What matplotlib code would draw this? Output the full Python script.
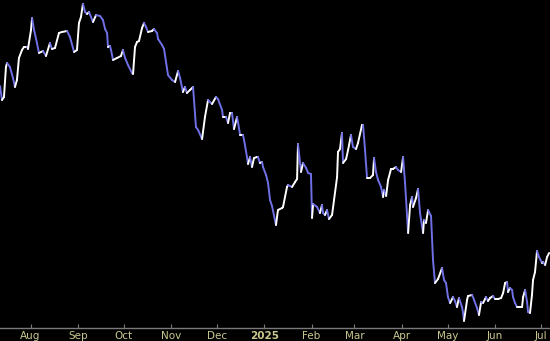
import matplotlib
matplotlib.use('Agg')
import numpy as np
import pandas as pd
import matplotlib.pyplot as plt
from matplotlib.collections import LineCollection

# days since the first point and the close level
day = [0.0, 1.3, 2.6, 3.9, 4.6, 6.5, 8.5, 9.8, 11.1, 12.4, 14.4, 15.7, 17.7, 18.3, 20.3, 21.0,
       22.3, 24.2, 25.5, 28.2, 30.1, 32.7, 34.0, 36.0, 38.6, 40.6, 43.9, 45.8, 48.5, 50.4, 51.7,
       53.0, 54.3, 55.7, 57.0, 58.3, 60.9, 62.9, 65.5, 67.4, 68.8, 70.1, 70.7, 72.0, 72.7, 74.0,
       76.6, 79.2, 80.5, 81.9, 83.8, 86.4, 87.1, 88.4, 89.7, 91.0, 93.0, 94.3, 95.6, 96.9, 99.5,
       100.8, 102.8, 103.5, 106.1, 107.4, 108.7, 110.0, 112.6, 114.6, 116.6, 117.9, 119.8, 121.1,
       122.4, 124.4, 126.4, 128.3, 129.7, 132.3, 134.2, 136.2, 138.8, 141.4, 142.7, 145.4, 146.0,
       148.0, 149.3, 150.6, 151.9, 153.2, 155.2, 155.8, 157.2, 159.1, 159.8, 161.7, 162.4, 163.7,
       165.0, 166.3, 168.3, 168.9, 170.2, 171.6, 172.2, 174.2, 175.5, 176.8, 178.1, 180.7, 182.0,
       184.7, 185.3, 187.9, 188.6, 191.2, 193.2, 194.5, 195.1, 197.1, 198.4, 200.4, 201.7, 203.6,
       204.3, 205.0, 207.6, 209.5, 210.8, 211.5, 212.8, 214.1, 215.4, 217.4, 218.7, 220.7, 221.3,
       222.6, 223.9, 224.6, 226.6, 227.9, 229.8, 231.1, 233.1, 234.4, 237.0, 237.7, 239.0, 240.3,
       242.3, 244.2, 244.9, 246.2, 247.5, 249.5, 250.8, 251.4, 252.8, 254.1, 256.0, 257.3, 259.3,
       260.6, 262.6, 263.9, 265.2, 267.2, 268.5, 269.8, 270.4, 272.4, 273.7, 275.0, 277.0, 277.6,
       278.9, 280.3, 282.2, 283.5, 284.8, 286.8, 289.4, 290.7, 292.0, 293.3, 294.7, 296.6, 297.9,
       299.2, 300.5, 302.5, 303.2, 303.8, 305.8, 306.4, 309.1, 310.4, 312.3, 313.6, 315.0, 316.3,
       318.2, 319.5, 320.9, 322.8, 324.1, 326.1, 328.1, 329.4, 330.7, 332.0, 332.6, 333.9, 335.3,
       335.9, 337.2, 338.5, 340.5, 341.8, 342.5, 343.8, 345.1, 345.7, 347.0, 348.3, 349.0, 350.3,
       351.6, 352.9, 354.9, 355.6, 356.9, 358.2, 359.5]
close = [242, 228, 231, 261, 265, 261, 250, 241, 248, 270, 278, 281, 281, 279, 298, 310,
         298, 285, 275, 277, 272, 285, 279, 280, 295, 296, 297, 291, 276, 278, 305,
         311, 324, 316, 314, 316, 306, 313, 312, 308, 299, 295, 281, 282, 278, 268,
         270, 272, 278, 270, 263, 255, 254, 281, 286, 287, 300, 305, 301, 296, 297,
         299, 295, 289, 283, 279, 266, 253, 248, 246, 257, 250, 236, 241,
         235, 238, 241, 201, 198, 189, 211, 228, 224, 231, 229, 218, 211,
         211, 205, 215, 215, 199, 211, 206, 193, 193, 188, 171, 164, 171,
         161, 170, 171, 171, 165, 166, 161, 153, 145, 128, 122, 103, 118,
         120, 121, 141, 143, 141, 146, 149, 184, 156, 165, 160, 155, 154,
         110, 124, 121, 115, 123, 115, 113, 118, 109, 113, 128, 151, 176,
         179, 195, 165, 169, 178, 193, 181, 179, 185, 203, 203, 178, 150,
         150, 153, 170, 156, 148, 141, 131, 138, 132, 148, 159, 159, 161,
         158, 156, 171, 145, 95, 123, 131, 121, 130, 139, 115, 95, 108,
         105, 118, 112, 68, 45, 49, 60, 48, 45, 31, 25, 31, 27,
         21, 30, 21, 15, 7, 28, 32, 33, 28, 20, 13, 26, 25,
         31, 27, 30, 32, 29, 29, 30, 35, 45, 46, 36, 40, 38,
         31, 25, 21, 21, 21, 31, 38, 26, 16, 15, 33, 48, 56,
         77, 71, 65, 66, 63, 71, 75]

tick_dates = ['2024-08-01', '2024-09-01', '2024-10-01', '2024-11-01', '2024-12-01', '2025-01-01',
              '2025-02-01', '2025-03-01', '2025-04-01', '2025-05-01', '2025-06-01', '2025-07-01']
tick_labels = ['Aug', 'Sep', 'Oct', 'Nov', 'Dec', '2025', 'Feb', 'Mar', 'Apr', 'May', 'Jun', 'Jul']

start = pd.Timestamp('2024-07-12')
dates = start + pd.to_timedelta(day, unit='D')
x = matplotlib.dates.date2num(dates)
y = np.array(close, dtype=float)

fig = plt.figure(figsize=(5.5, 3.41), dpi=100, facecolor='black')
ax = fig.add_axes([0, 13 / 341, 1, 328 / 341], facecolor='black')

# white when rising, blue when falling
pts = np.column_stack([x, y])
segs = np.stack([pts[:-1], pts[1:]], axis=1)
cols = ['white' if b >= a else '#6f6fe6' for a, b in zip(y[:-1], y[1:])]
lc = LineCollection(segs, colors=cols, linewidths=1.4, capstyle='round', joinstyle='round')
ax.add_collection(lc)

ax.set_xlim(start, start + pd.Timedelta(days=360.1))
ax.set_ylim(0, 328)

ax.set_xticks(matplotlib.dates.date2num(pd.to_datetime(tick_dates)))
ax.set_xticklabels(tick_labels)
for lbl in ax.get_xticklabels():
    if lbl.get_text() == '2025':
        lbl.set_fontweight('bold')
ax.tick_params(axis='x', direction='in', length=3, width=0.8, color='#7a7a7a',
               labelcolor='#c9c98f', labelsize=7.5, pad=2)
ax.set_yticks([])
for s in ['top', 'left', 'right']:
    ax.spines[s].set_visible(False)
ax.spines['bottom'].set_color('#7a7a7a')
ax.spines['bottom'].set_linewidth(1)

fig.savefig('out.png', dpi=100, facecolor='black')
